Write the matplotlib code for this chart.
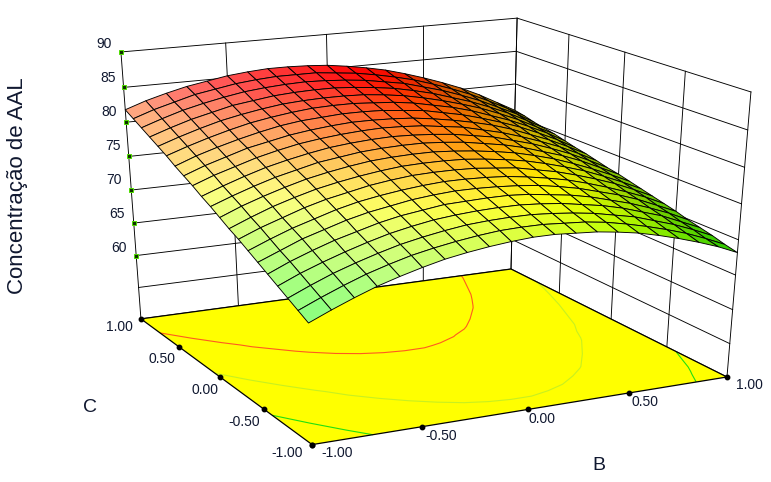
import numpy as np
import matplotlib
matplotlib.use('Agg')
import matplotlib.pyplot as plt
from matplotlib.colors import LinearSegmentedColormap

# response surface, one row per C value, columns follow B
b_vals = [-1.0, -0.9, -0.8, -0.7, -0.6, -0.5, -0.4, -0.3, -0.2, -0.1, 0.0, 0.1, 0.2, 0.3, 0.4, 0.5, 0.6, 0.7, 0.8, 0.9, 1.0]
c_vals = [-1.0, -0.9, -0.8, -0.7, -0.6, -0.5, -0.4, -0.3, -0.2, -0.1, 0.0, 0.1, 0.2, 0.3, 0.4, 0.5, 0.6, 0.7, 0.8, 0.9, 1.0]
aal = [
    [66.7, 68.0, 69.2, 70.3, 71.2, 72.0, 72.7, 73.2, 73.6, 73.9, 74.1, 74.1, 73.9, 73.7, 73.3, 72.8, 72.1, 71.3, 70.4, 69.4, 68.2],
    [67.5, 68.8, 70.0, 71.1, 72.0, 72.8, 73.4, 73.9, 74.3, 74.6, 74.7, 74.7, 74.5, 74.3, 73.9, 73.3, 72.6, 71.8, 70.9, 69.8, 68.6],
    [68.3, 69.6, 70.8, 71.8, 72.7, 73.5, 74.1, 74.6, 75.0, 75.2, 75.3, 75.3, 75.1, 74.8, 74.4, 73.8, 73.2, 72.3, 71.4, 70.3, 69.1],
    [69.1, 70.4, 71.5, 72.5, 73.4, 74.2, 74.8, 75.3, 75.6, 75.8, 75.9, 75.9, 75.7, 75.4, 74.9, 74.4, 73.7, 72.8, 71.9, 70.7, 69.5],
    [69.9, 71.2, 72.3, 73.3, 74.1, 74.9, 75.5, 75.9, 76.3, 76.4, 76.5, 76.5, 76.3, 75.9, 75.5, 74.9, 74.1, 73.3, 72.3, 71.2, 69.9],
    [70.7, 71.9, 73.1, 74.0, 74.9, 75.6, 76.1, 76.6, 76.9, 77.1, 77.1, 77.0, 76.8, 76.5, 76.0, 75.4, 74.6, 73.8, 72.8, 71.6, 70.4],
    [71.5, 72.7, 73.8, 74.7, 75.6, 76.3, 76.8, 77.2, 77.5, 77.7, 77.7, 77.6, 77.4, 77.0, 76.5, 75.9, 75.1, 74.2, 73.2, 72.1, 70.8],
    [72.3, 73.5, 74.5, 75.5, 76.3, 76.9, 77.5, 77.9, 78.2, 78.3, 78.3, 78.2, 77.9, 77.6, 77.0, 76.4, 75.6, 74.7, 73.7, 72.5, 71.2],
    [73.0, 74.2, 75.3, 76.2, 77.0, 77.6, 78.1, 78.5, 78.8, 78.9, 78.9, 78.8, 78.5, 78.1, 77.6, 76.9, 76.1, 75.2, 74.1, 72.9, 71.6],
    [73.8, 75.0, 76.0, 76.9, 77.7, 78.3, 78.8, 79.2, 79.4, 79.5, 79.5, 79.3, 79.0, 78.6, 78.1, 77.4, 76.6, 75.6, 74.5, 73.3, 72.0],
    [74.6, 75.7, 76.7, 77.6, 78.3, 79.0, 79.4, 79.8, 80.0, 80.1, 80.1, 79.9, 79.6, 79.1, 78.6, 77.9, 77.0, 76.1, 75.0, 73.7, 72.4],
    [75.3, 76.4, 77.4, 78.3, 79.0, 79.6, 80.1, 80.4, 80.6, 80.7, 80.6, 80.4, 80.1, 79.6, 79.1, 78.3, 77.5, 76.5, 75.4, 74.1, 72.7],
    [76.1, 77.2, 78.1, 79.0, 79.7, 80.3, 80.7, 81.0, 81.2, 81.3, 81.2, 81.0, 80.6, 80.2, 79.5, 78.8, 77.9, 76.9, 75.8, 74.5, 73.1],
    [76.8, 77.9, 78.8, 79.7, 80.3, 80.9, 81.3, 81.6, 81.8, 81.8, 81.7, 81.5, 81.1, 80.6, 80.0, 79.3, 78.4, 77.3, 76.2, 74.9, 73.5],
    [77.5, 78.6, 79.5, 80.3, 81.0, 81.6, 82.0, 82.2, 82.4, 82.4, 82.3, 82.0, 81.7, 81.1, 80.5, 79.7, 78.8, 77.8, 76.6, 75.3, 73.8],
    [78.3, 79.3, 80.2, 81.0, 81.7, 82.2, 82.6, 82.9, 83.0, 83.0, 82.8, 82.6, 82.2, 81.6, 81.0, 80.2, 79.2, 78.2, 77.0, 75.7, 74.2],
    [79.0, 80.0, 80.9, 81.7, 82.3, 82.8, 83.2, 83.4, 83.5, 83.5, 83.4, 83.1, 82.7, 82.1, 81.4, 80.6, 79.7, 78.6, 77.4, 76.0, 74.6],
    [79.7, 80.7, 81.6, 82.3, 83.0, 83.4, 83.8, 84.0, 84.1, 84.1, 83.9, 83.6, 83.2, 82.6, 81.9, 81.0, 80.1, 79.0, 77.8, 76.4, 74.9],
    [80.4, 81.4, 82.3, 83.0, 83.6, 84.1, 84.4, 84.6, 84.7, 84.6, 84.4, 84.1, 83.6, 83.1, 82.3, 81.5, 80.5, 79.4, 78.1, 76.8, 75.2],
    [81.1, 82.1, 82.9, 83.7, 84.2, 84.7, 85.0, 85.2, 85.2, 85.2, 84.9, 84.6, 84.1, 83.5, 82.8, 81.9, 80.9, 79.8, 78.5, 77.1, 75.6],
    [81.8, 82.8, 83.6, 84.3, 84.8, 85.3, 85.6, 85.8, 85.8, 85.7, 85.5, 85.1, 84.6, 84.0, 83.2, 82.3, 81.3, 80.2, 78.9, 77.4, 75.9],
]
axis_ticks = [-1.0, -0.5, 0.0, 0.5, 1.0]
c_labels = ['1.00', '0.50', '0.00', '-0.50', '-1.00']
b_labels = ['-1.00', '-0.50', '0.00', '0.50', '1.00']
z_ticks = [90, 85, 80, 75, 70, 65, 60]
z_grid = [50, 55, 60, 65, 70, 75, 80, 85, 90]
contour_levels = [70, 75, 80]

W_PX, H_PX = 771, 482
LW = 0.65
plt.rcParams['font.family'] = ['Liberation Sans', 'DejaVu Sans']

fig = plt.figure(figsize=(W_PX / 100, H_PX / 100), dpi=100)
ax = fig.add_axes([31.40 / W_PX, 13.25 / H_PX, 762.55 / W_PX, 496.18 / H_PX], projection='3d', computed_zorder=False)
ax.apply_aspect = lambda position=None: None  # keep the stretched panel, it matches the camera
ax.set_xlim(-1, 1)
ax.set_ylim(-1, 1)
ax.set_zlim(50, 90)
ax.view_init(22.105, -116.518, -0.035)
ax.set_proj_type('persp', focal_length=0.5786)
ax.set_box_aspect((1, 0.9979, 1.0096))
ax.set_axis_off()

B, C = np.meshgrid(b_vals, c_vals)
Z = np.array(aal)

# height colours, washed out on the lit side and darker on the far side
cmap = LinearSegmentedColormap.from_list('de', [(0, '#00ff00'), (0.53, '#ffff00'), (1, '#ff0000')])
base = cmap(np.clip((Z - 66.5) / 18.0, 0, 1))
dzdc, dzdb = np.gradient(Z, c_vals, b_vals)
S = dzdb + dzdc
col = base.copy()
for i in range(3):
    col[..., i] = np.where(S > 0, base[..., i] + (1 - base[..., i]) * np.clip(S * 0.032, 0, 0.5),
                           base[..., i] * (1 + np.clip(S, -30, 0) * 0.028))
cells = (col[:-1, :-1] + col[1:, :-1] + col[:-1, 1:] + col[1:, 1:]) / 4

# back walls
for z in z_grid:
    ax.plot([-1, 1, 1], [1, 1, -1], [z] * 3, 'k', lw=LW, zorder=1)
for t in axis_ticks:
    ax.plot([t, t], [1, 1], [50, 90], 'k', lw=LW, zorder=1)
    ax.plot([1, 1], [t, t], [50, 90], 'k', lw=LW, zorder=1)

# floor with the contour lines
ax.plot_surface(np.array([[-1, 1], [-1, 1]]), np.array([[-1, -1], [1, 1]]), np.full((2, 2), 50.),
                color='#ffff00', shade=False, linewidth=0, zorder=2)
ax.contour(B, C, Z, levels=contour_levels, colors=['#20e010', '#c8f020', '#ff5a20'],
           zdir='z', offset=50, linewidths=0.8, zorder=3)
ax.plot([-1, -1, 1, 1, -1], [-1, 1, 1, -1, -1], [50] * 5, 'k', lw=0.9, zorder=3)

ax.plot_surface(B, C, Z, facecolors=cells, edgecolor='k', linewidth=LW, rstride=1, cstride=1,
                shade=False, zorder=4)

ax.plot([-1] * len(z_ticks), [1] * len(z_ticks), z_ticks, ls='', marker='s', ms=3, mfc='#103000', mec='#50e000',
        mew=0.7, zorder=5)
ax.plot([-1] * 5, axis_ticks, [50] * 5, ls='', marker='o', ms=3.2, color='k', zorder=5)
ax.plot(axis_ticks, [-1] * 5, [50] * 5, ls='', marker='o', ms=3.2, color='k', zorder=5)


def label(x, y, s, size=10, **kw):
    fig.text(x / W_PX, 1 - y / H_PX, s, fontsize=size, color='#101830', **kw)


for z, (x, y) in zip(z_ticks, [(112, 44), (116, 78), (117, 112), (121, 146), (122, 180), (125, 214), (127, 248)]):
    label(x, y, str(z), ha='right', va='center')
for s, (x, y) in zip(c_labels, [(119, 327), (162, 359), (205, 390), (244, 422), (287, 453)]):
    label(x, y, s, ha='center', va='center')
for s, (x, y) in zip(b_labels, [(337, 453), (441, 436), (542, 419), (645, 402), (749, 385)]):
    label(x, y, s, ha='center', va='center')
label(599, 465, 'B', size=14, ha='center', va='center')
label(90, 408, 'C', size=14, ha='center', va='center')
label(18, 186, 'Concentração de AAL', size=16, ha='center', va='center', rotation=90)

fig.savefig('out.png', dpi=100)
